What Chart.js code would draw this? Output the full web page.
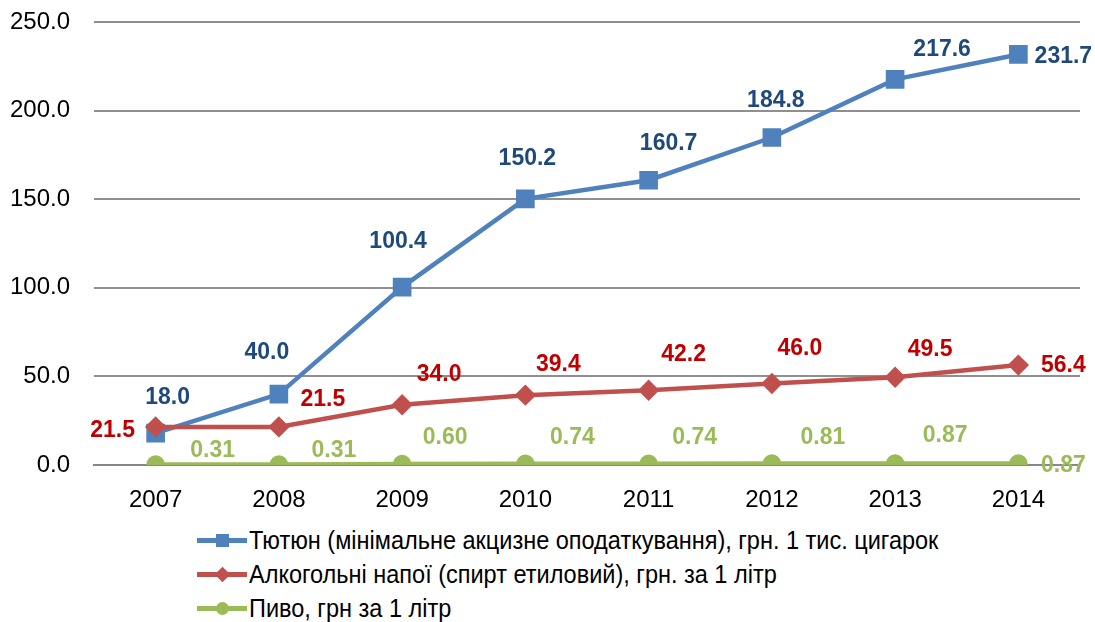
<!DOCTYPE html>
<html>
<head>
<meta charset="utf-8">
<script src="https://cdn.jsdelivr.net/npm/chart.js@4"></script>
<style>
  body { margin: 0; background: #fff; }
  #wrap { position: relative; width: 1095px; height: 622px; }
  #chart { position: absolute; left: 0; top: 0; }
  #legend { position: absolute; left: 197px; top: 523px; font-family: 'Liberation Sans Narrow', 'Liberation Sans', Arial, sans-serif; font-size: 25px; color: #000; }
  .item { height: 34px; display: flex; align-items: center; white-space: nowrap; }
  .item span { display: inline-block; transform: scaleX(0.94); transform-origin: left center; }
  .key { position: relative; width: 50px; height: 34px; margin-right: 2px; }
  .key .ln { position: absolute; left: 0; right: 0; top: 15px; height: 5px; }
  .key .mk { position: absolute; left: 19px; top: 11px; width: 13px; height: 13px; }
</style>
</head>
<body>
<div id="wrap">
  <canvas id="chart" width="1095" height="520"></canvas>
  <div id="legend"></div>
</div>
<script>
  const years = ['2007', '2008', '2009', '2010', '2011', '2012', '2013', '2014'];
  const tobacco = [18.0, 40.0, 100.4, 150.2, 160.7, 184.8, 217.6, 231.7];
  const alcohol = [21.5, 21.5, 34.0, 39.4, 42.2, 46.0, 49.5, 56.4];
  const beer = [0.31, 0.31, 0.60, 0.74, 0.74, 0.81, 0.87, 0.87];
  const seriesNames = [
    'Тютюн (мінімальне акцизне оподаткування), грн. 1 тис. цигарок',
    'Алкогольні напої (спирт етиловий), грн. за 1 літр',
    'Пиво, грн за 1 літр'
  ];

  // where each value label sits, relative to its point
  const labelShift = [
    [[12, -35], [-12, -41], [-4, -45], [2, -40], [20, -37], [4, -37], [47, -30], [45, 2]],
    [[-43, 4], [44, -27], [37, -30], [33, -31], [35, -36], [28, -35], [35, -28], [45, 1]],
    [[57, -14], [55, -14], [43, -26], [47, -26], [46, -26], [51, -26], [50, -28], [45, 2]]
  ];

  const valueLabels = {
    id: 'valueLabels',
    afterDatasetsDraw(chart) {
      const ctx = chart.ctx;
      ctx.save();
      ctx.font = 'bold 23px "Liberation Sans", Arial, sans-serif';
      ctx.textAlign = 'center';
      ctx.textBaseline = 'middle';
      chart.data.datasets.forEach((ds, i) => {
        const meta = chart.getDatasetMeta(i);
        ctx.fillStyle = ds.labelColor;
        meta.data.forEach((pt, j) => {
          const s = labelShift[i][j];
          ctx.fillText(ds.data[j].toFixed(ds.decimals), pt.x + s[0], pt.y + s[1]);
        });
      });
      ctx.restore();
    }
  };

  const tickFont = { family: '"Liberation Sans", Arial, sans-serif', size: 24 };

  const chart = new Chart(document.getElementById('chart'), {
    type: 'line',
    data: {
      labels: years,
      datasets: [{
        label: seriesNames[0],
        data: tobacco,
        borderColor: '#4F81BD',
        backgroundColor: '#4F81BD',
        pointStyle: 'rect',
        pointRadius: 10,
        borderWidth: 4.5,
        labelColor: '#1F497D',
        decimals: 1,
        order: 3
      }, {
        label: seriesNames[1],
        data: alcohol,
        borderColor: '#C0504D',
        backgroundColor: '#C0504D',
        pointStyle: 'rectRot',
        pointRadius: 7.5,
        borderWidth: 4.5,
        labelColor: '#C00000',
        decimals: 1,
        order: 2
      }, {
        label: seriesNames[2],
        data: beer,
        borderColor: '#9BBB59',
        backgroundColor: '#9BBB59',
        pointStyle: 'circle',
        pointRadius: 7,
        borderWidth: 4.5,
        labelColor: '#9BBB59',
        decimals: 2,
        order: 1
      }]
    },
    options: {
      responsive: false,
      animation: false,
      layout: { autoPadding: false, padding: { top: 22, right: 15, left: 0, bottom: 0 } },
      plugins: { legend: { display: false }, tooltip: { enabled: false } },
      elements: { line: { tension: 0 }, point: { borderWidth: 0 } },
      scales: {
        x: {
          offset: true,
          grid: { display: false, drawTicks: false, offset: true },
          border: { display: true, color: '#888888', width: 2 },
          ticks: { color: '#000', padding: 21, font: tickFont },
          afterFit: s => { s.height = 55; s.paddingLeft = 0; s.paddingRight = 0; }
        },
        y: {
          min: 0,
          max: 250,
          grid: { color: '#8f8f8f', lineWidth: 2, drawTicks: false },
          border: { display: false },
          ticks: {
            stepSize: 50,
            color: '#000',
            padding: 24,
            font: tickFont,
            callback: v => v.toFixed(1)
          },
          afterFit: s => { s.width = 94; s.paddingTop = 0; s.paddingBottom = 0; }
        }
      }
    },
    plugins: [valueLabels]
  });

  // legend drawn as a left-aligned list, like the original
  const legend = document.getElementById('legend');
  const shapes = { rect: '0', rectRot: '0', circle: '50%' };
  chart.data.datasets.forEach(ds => {
    const row = document.createElement('div');
    row.className = 'item';
    const key = document.createElement('div');
    key.className = 'key';
    const ln = document.createElement('div');
    ln.className = 'ln';
    ln.style.background = ds.borderColor;
    const mk = document.createElement('div');
    mk.className = 'mk';
    mk.style.background = ds.borderColor;
    mk.style.borderRadius = shapes[ds.pointStyle];
    if (ds.pointStyle === 'rectRot') mk.style.transform = 'rotate(45deg) scale(0.85)';
    key.appendChild(ln);
    key.appendChild(mk);
    const txt = document.createElement('span');
    txt.textContent = ds.label;
    row.appendChild(key);
    row.appendChild(txt);
    legend.appendChild(row);
  });
</script>
</body>
</html>
